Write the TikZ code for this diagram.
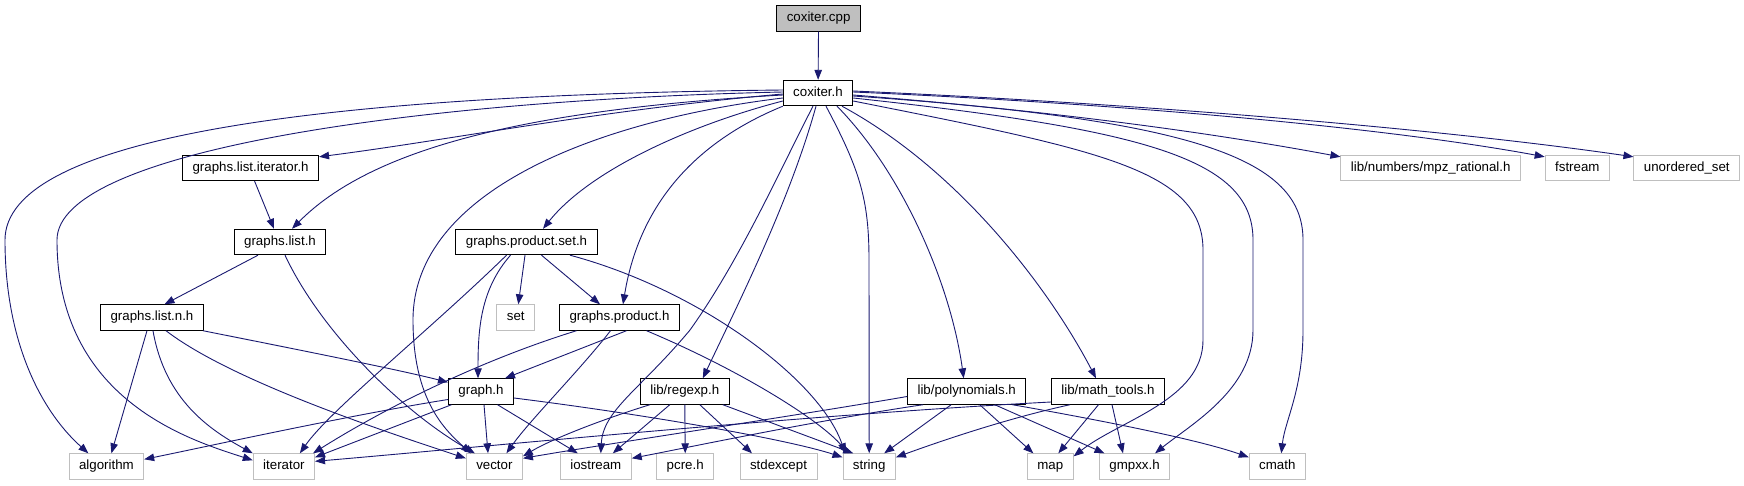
\documentclass[tikz,border=0pt]{standalone}
\usepackage{fontspec}
\setmainfont{Liberation Sans}
\usetikzlibrary{arrows.meta}
\definecolor{depblue}{RGB}{25,25,112}
\definecolor{depgray}{RGB}{191,191,191}
\tikzset{
  depbox/.style={
    rectangle,
    draw=black,
    line width=0.9pt,
    minimum height=25.5pt,
    inner xsep=10pt,
    inner ysep=0pt,
    text height=9.6pt,
    text depth=2.8pt,
    fill=white,
    font=\fontsize{13.3}{15}\selectfont
  },
  depleaf/.style={
    depbox,
    draw=depgray
  },
  depmain/.style={
    depbox,
    fill=depgray
  },
  deparrow/.style={
    -{Triangle[length=10pt,width=7.5pt]},
    line width=0.9pt,
    draw=depblue
  }
}

\begin{document}
\begin{tikzpicture}[x=1pt,y=-1pt]
    \useasboundingbox (0,0) rectangle (1744,485);

    \node (cpp) [depmain] at (818.6,18.5) {coxiter.cpp};
    \node (coxh) [depbox] at (818,93) {coxiter.h};

    \node (listit) [depbox] at (250.6,168) {graphs.list.iterator.h};
    \node (mpz) [depleaf] at (1430.7,168) {lib/numbers/mpz\_rational.h};
    \node (fstream) [depleaf] at (1577.3,168) {fstream};
    \node (uset) [depleaf] at (1686.8,168) {unordered\_set};

    \node (list) [depbox] at (280,242) {graphs.list.h};
    \node (prodset) [depbox] at (526.5,242) {graphs.product.set.h};

    \node (listn) [depbox] at (152,317.5) {graphs.list.n.h};
    \node (set) [depleaf] at (515.8,317.5) {set};
    \node (prod) [depbox] at (619.5,317.5) {graphs.product.h};

    \node (graph) [depbox] at (481,391.5) {graph.h};
    \node (regexp) [depbox] at (684.8,391.5) {lib/regexp.h};
    \node (poly) [depbox] at (966.7,391.5) {lib/polynomials.h};
    \node (mtools) [depbox] at (1108,391.5) {lib/math\_tools.h};

    \node (algorithm) [depleaf] at (106.4,466.5) {algorithm};
    \node (iterator) [depleaf] at (283.9,466.5) {iterator};
    \node (vector) [depleaf] at (494.4,466.5) {vector};
    \node (iostream) [depleaf] at (595.8,466.5) {iostream};
    \node (pcre) [depleaf] at (685.2,466.5) {pcre.h};
    \node (stdexcept) [depleaf] at (778.5,466.5) {stdexcept};
    \node (string) [depleaf] at (869.2,466.5) {string};
    \node (map) [depleaf] at (1050.3,466.5) {map};
    \node (gmpxx) [depleaf] at (1134.5,466.5) {gmpxx.h};
    \node (cmath) [depleaf] at (1277.3,466.5) {cmath};

    \draw[deparrow] (cpp) -- (coxh);

    % coxiter.h, to the left
    \draw[deparrow] ([yshift=3pt]coxh.west) .. controls (300,95) and (5,140) .. (5,240) .. controls (5,340) and (40,410) .. ([xshift=-18pt]algorithm.north);
    \draw[deparrow] ([yshift=1pt]coxh.west) .. controls (420,100) and (57,150) .. (57,240) .. controls (57,400) and (190,440) .. ([yshift=-7pt]iterator.north west);
    \draw[deparrow] ([yshift=-1pt]coxh.west) .. controls (600,110) and (450,140) .. ([yshift=-2pt]listit.north east);
    \draw[deparrow] ([yshift=-2pt]coxh.west) .. controls (520,110) and (370,150) .. ([xshift=12pt]list.north);
    \draw[deparrow] ([yshift=-5pt]coxh.west) .. controls (600,120) and (413,190) .. (413,320) .. controls (413,400) and (445,430) .. ([xshift=5pt]vector.north west);
    \draw[deparrow] ([yshift=-8pt]coxh.west) .. controls (690,125) and (590,170) .. ([xshift=16.5pt]prodset.north);
    \draw[deparrow] (coxh.south west) .. controls (700,140) and (640,200) .. ([xshift=3.5pt]prod.north);

    % coxiter.h, downwards
    \draw[deparrow] ([xshift=-5pt]coxh.south) .. controls (780,170) and (740,260) .. (690,330) .. controls (640,390) and (603,410) .. ([xshift=5pt]iostream.north);
    \draw[deparrow] ([xshift=-2pt]coxh.south) .. controls (790,200) and (740,300) .. ([xshift=18pt]regexp.north);
    \draw[deparrow] ([xshift=8pt]coxh.south) .. controls (860,170) and (869,200) .. (869,260) -- (string.north);
    \draw[deparrow] ([xshift=19pt]coxh.south) .. controls (900,170) and (950,280) .. ([xshift=-3pt]poly.north);
    \draw[deparrow] ([xshift=24pt]coxh.south) .. controls (960,170) and (1050,290) .. ([xshift=-12pt]mtools.north);

    % coxiter.h, to the right
    \draw[deparrow] ([yshift=1pt]coxh.east) .. controls (1150,105) and (1400,130) .. ([yshift=-2pt]fstream.north west);
    \draw[deparrow] ([yshift=2pt]coxh.east) .. controls (1150,104) and (1450,130) .. ([yshift=-2pt]uset.north west);
    \draw[deparrow] ([yshift=-2pt]coxh.east) .. controls (1100,115) and (1250,140) .. ([yshift=-2pt]mpz.north west);
    \draw[deparrow] ([yshift=-3pt]coxh.east) .. controls (1200,120) and (1303,160) .. (1303,240) -- (1303,330) .. controls (1303,390) and (1285,420) .. ([xshift=4pt]cmath.north);
    \draw[deparrow] ([yshift=-5pt]coxh.east) .. controls (1150,130) and (1253,160) .. (1253,240) -- (1253,330) .. controls (1253,390) and (1190,425) .. ([xshift=-15pt]gmpxx.north east);
    \draw[deparrow] ([yshift=-8pt]coxh.east) .. controls (1100,150) and (1203,170) .. (1203,250) -- (1203,340) .. controls (1203,400) and (1120,420) .. ([yshift=-3pt]map.north east);

    % graphs.list.*
    \draw[deparrow] ([xshift=4pt]listit.south) -- ([xshift=-6pt]list.north);
    \draw[deparrow] ([xshift=-22pt]list.south) -- ([xshift=12.5pt]listn.north);
    \draw[deparrow] ([xshift=5pt]list.south) .. controls (320,330) and (400,410) .. ([xshift=9pt]vector.north west);
    \draw[deparrow] ([xshift=-5pt]listn.south) -- ([xshift=5pt]algorithm.north);
    \draw[deparrow] ([xshift=1pt]listn.south) .. controls (165,400) and (210,430) .. (iterator.north west);
    \draw[deparrow] ([xshift=14pt]listn.south) .. controls (230,380) and (380,430) .. ([yshift=-5pt]vector.north west);
    \draw[deparrow] ([xshift=-1pt]listn.south east) .. controls (300,350) and (400,370) .. ([yshift=-4pt]graph.north west);

    % graphs.product.*
    \draw[deparrow] ([xshift=-1.5pt]prodset.south) -- ([xshift=2.5pt]set.north);
    \draw[deparrow] ([xshift=15pt]prodset.south) -- ([xshift=-19.5pt]prod.north);
    \draw[deparrow] ([xshift=-16pt]prodset.south) .. controls (480,290) and (478,330) .. ([xshift=-3pt]graph.north);
    \draw[deparrow] ([xshift=-20pt]prodset.south) .. controls (430,330) and (330,410) .. ([xshift=16pt]iterator.north);
    \draw[deparrow] ([xshift=43.5pt]prodset.south) .. controls (700,290) and (820,380) .. ([xshift=-24pt]string.north);
    \draw[deparrow] ([xshift=7pt]prod.south) -- ([xshift=24pt]graph.north);
    \draw[deparrow] ([xshift=-9pt]prod.south) .. controls (580,370) and (530,420) .. ([xshift=12pt]vector.north);
    \draw[deparrow] ([xshift=-43pt]prod.south) .. controls (450,370) and (350,430) .. ([xshift=-2pt]iterator.north east);
    \draw[deparrow] ([xshift=27pt]prod.south) .. controls (740,370) and (820,420) .. ([xshift=-21pt]string.north);

    % graph.h
    \draw[deparrow] ([yshift=-8pt]graph.west) .. controls (350,415) and (200,448) .. ([yshift=-6pt]algorithm.north east);
    \draw[deparrow] ([xshift=3.5pt]graph.south west) -- ([yshift=-4pt]iterator.north east);
    \draw[deparrow] ([xshift=3pt]graph.south) -- ([xshift=-6.4pt]vector.north);
    \draw[deparrow] ([xshift=16.5pt]graph.south) -- ([xshift=-18pt]iostream.north);
    \draw[deparrow] ([yshift=-6.5pt]graph.east) .. controls (650,415) and (790,440) .. ([yshift=-4pt]string.north west);

    % lib/regexp.h
    \draw[deparrow] ([xshift=10pt]regexp.south west) .. controls (600,420) and (550,440) .. ([yshift=-3pt]vector.north east);
    \draw[deparrow] ([xshift=-15pt]regexp.south) -- ([xshift=17pt]iostream.north);
    \draw[deparrow] (regexp.south) -- (pcre.north);
    \draw[deparrow] ([xshift=15pt]regexp.south) -- ([xshift=-26.5pt]stdexcept.north);
    \draw[deparrow] ([xshift=38pt]regexp.south) -- ([xshift=-16pt]string.north);

    % lib/polynomials.h
    \draw[deparrow] ([yshift=-5pt]poly.west) .. controls (800,415) and (600,445) .. ([yshift=-5pt]vector.north east);
    \draw[deparrow] ([xshift=16pt]poly.south west) .. controls (820,420) and (700,445) .. ([yshift=-5pt]iostream.north east);
    \draw[deparrow] ([xshift=-15.5pt]poly.south) -- ([xshift=15pt]string.north);
    \draw[deparrow] ([xshift=13pt]poly.south) -- ([xshift=-17pt]map.north);
    \draw[deparrow] ([xshift=28pt]poly.south) -- ([xshift=-30pt]gmpxx.north);
    \draw[deparrow] ([xshift=-14pt]poly.south east) .. controls (1100,420) and (1200,440) .. ([yshift=-4pt]cmath.north west);

    % lib/math_tools.h
    \draw[deparrow] ([yshift=-10.5pt]mtools.west) .. controls (800,415) and (450,450) .. ([yshift=-8pt]iterator.north east);
    \draw[deparrow] ([xshift=-38pt]mtools.south) .. controls (1000,420) and (930,445) .. ([yshift=-4pt]string.north east);
    \draw[deparrow] ([xshift=-9.5pt]mtools.south) -- ([xshift=8pt]map.north);
    \draw[deparrow] ([xshift=4pt]mtools.south) -- ([xshift=-11.5pt]gmpxx.north);
\end{tikzpicture}
\end{document}
